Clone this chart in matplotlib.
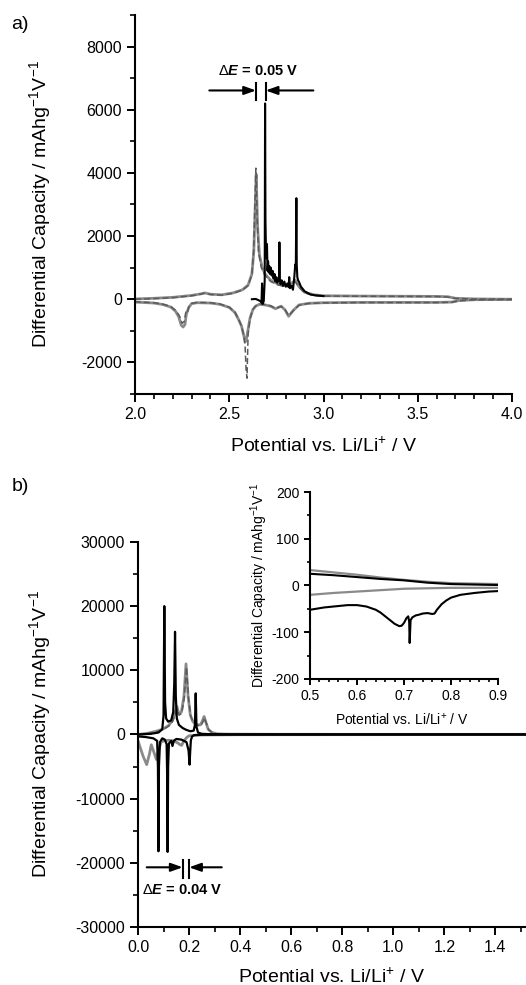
import matplotlib
matplotlib.use("Agg")
import matplotlib.pyplot as plt
from matplotlib.ticker import MultipleLocator

plt.rcParams['font.family'] = ['Liberation Sans', 'DejaVu Sans']
plt.rcParams['mathtext.fontset'] = 'custom'
plt.rcParams['mathtext.rm'] = 'Liberation Sans'
plt.rcParams['mathtext.it'] = 'Liberation Sans:bold:italic'
plt.rcParams['mathtext.bf'] = 'Liberation Sans:bold'
plt.rcParams['axes.unicode_minus'] = False

# ---------------- panel a data (2.0 - 4.0 V) ----------------
a_gray_chg_x = [2.00, 2.10, 2.20, 2.30, 2.35, 2.37, 2.40, 2.46, 2.52, 2.57, 2.60, 2.62, 2.63,
                2.637, 2.643, 2.65, 2.66, 2.675, 2.69, 2.72, 2.76, 2.80, 2.83, 2.85, 2.87,
                2.90, 2.95, 3.00, 3.20, 3.40, 3.60, 3.66, 3.70, 3.80, 4.00]
a_gray_chg_y = [10, 30, 60, 120, 170, 200, 160, 140, 200, 300, 450, 800, 1500,
                2800, 3950, 2300, 1400, 1000, 800, 600, 480, 420, 500, 600, 400,
                220, 140, 110, 100, 95, 90, 80, 30, 10, 0]

a_dash_chg_x = [2.00, 2.10, 2.20, 2.30, 2.37, 2.40, 2.46, 2.52, 2.57, 2.60, 2.62, 2.63,
                2.636, 2.641, 2.648, 2.655, 2.67, 2.69, 2.72, 2.76, 2.80, 2.83, 2.85,
                2.87, 2.90, 2.95, 3.00, 3.20, 3.40, 3.60, 3.66, 3.70, 3.80, 4.00]
a_dash_chg_y = [0, 20, 50, 110, 190, 150, 130, 190, 290, 430, 780, 1600,
                3000, 4150, 2600, 1500, 1000, 750, 560, 450, 400, 480, 560,
                380, 200, 130, 100, 95, 90, 85, 70, 25, 5, 0]

a_gray_dis_x = [4.00, 3.80, 3.72, 3.68, 3.60, 3.40, 3.20, 3.00, 2.92, 2.87, 2.84, 2.815,
                2.795, 2.775, 2.76, 2.745, 2.72, 2.69, 2.66, 2.64, 2.625, 2.61, 2.60,
                2.59, 2.585, 2.577, 2.565, 2.55, 2.53, 2.50, 2.45, 2.40, 2.33, 2.30,
                2.285, 2.272, 2.265, 2.255, 2.245, 2.232, 2.215, 2.19, 2.15, 2.10, 2.00]
a_gray_dis_y = [-5, -15, -40, -90, -100, -100, -100, -110, -130, -180, -350, -540,
                -330, -220, -260, -300, -220, -180, -160, -220, -330, -600, -950,
                -1300, -1350, -1150, -850, -650, -420, -260, -160, -120, -110, -140,
                -260, -480, -800, -880, -820, -560, -380, -250, -170, -120, -90]

a_dash_dis_x = [4.00, 3.80, 3.72, 3.68, 3.60, 3.40, 3.20, 3.00, 2.92, 2.87, 2.84, 2.815,
                2.795, 2.775, 2.745, 2.72, 2.69, 2.66, 2.64, 2.625, 2.61, 2.60, 2.594,
                2.589, 2.584, 2.577, 2.565, 2.55, 2.53, 2.50, 2.45, 2.40, 2.33, 2.30,
                2.285, 2.278, 2.27, 2.262, 2.25, 2.235, 2.215, 2.19, 2.15, 2.10, 2.00]
a_dash_dis_y = [-10, -20, -50, -95, -105, -105, -105, -115, -135, -190, -360, -520,
                -320, -230, -290, -210, -170, -150, -210, -320, -620, -1100, -2500,
                -2200, -1500, -1150, -850, -640, -410, -250, -150, -110, -100, -130,
                -250, -420, -380, -700, -760, -520, -350, -230, -160, -110, -80]

a_black_chg_x = [2.620, 2.640, 2.655, 2.665, 2.671, 2.674, 2.677, 2.683, 2.688, 2.690,
                 2.692, 2.694, 2.697, 2.700, 2.703, 2.706, 2.709, 2.712, 2.716, 2.720,
                 2.725, 2.730, 2.735, 2.740, 2.745, 2.750, 2.755, 2.760, 2.764, 2.766,
                 2.768, 2.772, 2.778, 2.785, 2.792, 2.800, 2.808, 2.815, 2.818, 2.822,
                 2.830, 2.838, 2.845, 2.850, 2.853, 2.856, 2.858, 2.861, 2.865, 2.870,
                 2.880, 2.900, 2.930, 2.960, 3.000]
a_black_chg_y = [0, 10, -30, -60, -100, 500, -150, -60, 600, 6200,
                 2500, 1800, 1300, 1750, 900, 1200, 850, 1050, 800, 1000,
                 750, 900, 650, 800, 560, 700, 520, 650, 600, 1800,
                 650, 480, 600, 420, 560, 400, 500, 380, 700, 350,
                 420, 300, 700, 1100, 1000, 3200, 1100, 700, 600, 550,
                 400, 250, 150, 120, 100]

# ---------------- panel b data (0 - 1.5 V) ----------------
b_gray_chg_x = [0.00, 0.04, 0.08, 0.10, 0.12, 0.135, 0.145, 0.152, 0.160, 0.170, 0.180,
                0.188, 0.196, 0.205, 0.215, 0.230, 0.245, 0.253, 0.259, 0.265, 0.275,
                0.290, 0.310, 0.350, 0.50, 0.80, 1.10, 1.52]
b_gray_chg_y = [0, 200, 600, 900, 1400, 2200, 3300, 4400, 3200, 3500, 6000,
                11000, 6000, 3000, 2000, 1500, 1500, 2200, 2800, 2000, 800,
                300, 100, 50, 30, 20, 20, 20]

b_dash_chg_x = [0.00, 0.04, 0.08, 0.10, 0.12, 0.135, 0.145, 0.153, 0.161, 0.171, 0.181,
                0.190, 0.198, 0.207, 0.217, 0.232, 0.247, 0.255, 0.261, 0.267, 0.277,
                0.292, 0.312, 0.350, 0.50, 0.80, 1.10, 1.52]
b_dash_chg_y = [0, 150, 500, 800, 1300, 2000, 3000, 4000, 3000, 3300, 5600,
                10500, 5600, 2800, 1900, 1400, 1400, 2000, 2600, 1800, 700,
                250, 80, 40, 20, 10, 10, 10]

b_black_chg_x = [0.00, 0.05, 0.08, 0.095, 0.100, 0.103, 0.106, 0.110, 0.118, 0.130, 0.138,
                 0.142, 0.145, 0.148, 0.152, 0.160, 0.175, 0.190, 0.205, 0.218, 0.223,
                 0.226, 0.229, 0.235, 0.250, 0.280, 0.350, 1.52]
b_black_chg_y = [0, 100, 300, 800, 3000, 20000, 5000, 2500, 2000, 2200, 3500,
                 8000, 16000, 6000, 2500, 1500, 1000, 700, 500, 600, 1500,
                 6400, 1200, 300, 100, 50, 20, 0]

b_black_dis_x = [0.00, 0.03, 0.06, 0.075, 0.078, 0.080, 0.082, 0.086, 0.095, 0.105, 0.112,
                 0.114, 0.116, 0.118, 0.121, 0.130, 0.135, 0.140, 0.150, 0.170, 0.190,
                 0.198, 0.202, 0.204, 0.207, 0.212, 0.220, 0.250, 0.350, 1.52]
b_black_dis_y = [-300, -400, -600, -1000, -5000, -18200, -5000, -1200, -600, -800, -1500,
                 -6000, -18300, -5000, -1400, -1000, -1800, -1000, -700, -800, -1200,
                 -2500, -4700, -3000, -900, -300, -100, -50, -20, 0]

b_gray_dis_x = [0.00, 0.010, 0.020, 0.034, 0.045, 0.052, 0.060, 0.072, 0.080, 0.090, 0.100,
                0.120, 0.140, 0.155, 0.165, 0.171, 0.178, 0.190, 0.200, 0.250, 0.40,
                0.80, 1.20, 1.52]
b_gray_dis_y = [-1000, -2200, -3400, -4700, -3000, -1600, -2500, -3900, -2500, -1200, -1000,
                -900, -1000, -1300, -1600, -1700, -1100, -500, -200, -80, -40,
                -30, -20, -20]

# ---------------- inset data (0.5 - 0.9 V) ----------------
ins_gray_up_x = [0.50, 0.55, 0.60, 0.65, 0.70, 0.75, 0.80, 0.85, 0.90]
ins_gray_up_y = [33, 28, 23, 17, 12, 8, 5, 4, 3]
ins_black_up_x = [0.50, 0.55, 0.60, 0.65, 0.70, 0.75, 0.80, 0.85, 0.90]
ins_black_up_y = [25, 22, 18, 14, 11, 6, 3, 2, 1]
ins_gray_lo_x = [0.50, 0.55, 0.60, 0.65, 0.70, 0.75, 0.80, 0.85, 0.90]
ins_gray_lo_y = [-20, -16, -13, -10, -7, -6, -5, -5, -5]
ins_black_lo_x = [0.50, 0.53, 0.56, 0.58, 0.60, 0.62, 0.64, 0.65, 0.66, 0.67, 0.68, 0.69,
                  0.695, 0.70, 0.705, 0.709, 0.711, 0.712, 0.714, 0.718, 0.725, 0.73,
                  0.74, 0.75, 0.76, 0.765, 0.77, 0.78, 0.79, 0.80, 0.82, 0.85, 0.88, 0.90]
ins_black_lo_y = [-52, -47, -44, -42, -42, -45, -52, -58, -66, -74, -82, -87,
                  -86, -80, -70, -66, -78, -123, -74, -68, -64, -63,
                  -60, -59, -61, -60, -52, -40, -32, -26, -20, -16, -13, -12]

GRAY = '#8a8a8a'
DGRAY = '#5a5a5a'
ylab = r'Differential Capacity / mAhg$^{-1}$V$^{-1}$'
xlab = r'Potential vs. Li/Li$^{+}$ / V'


def style(ax, fs, maj=6, mnr=3.5):
    ax.spines['top'].set_visible(False)
    ax.spines['right'].set_visible(False)
    for s in ('left', 'bottom'):
        ax.spines[s].set_linewidth(1.5)
    ax.tick_params(which='major', direction='out', length=maj, width=1.4, labelsize=fs)
    ax.tick_params(which='minor', direction='out', length=mnr, width=1.2)


def delta_e(ax, xl0, xl1, xr0, xr1, ya, yb0, yb1):
    ap = dict(arrowstyle='-|>,head_length=0.7,head_width=0.25', lw=1.5, color='k',
              shrinkA=0, shrinkB=0)
    ax.annotate('', xy=(xl1, ya), xytext=(xl0, ya), arrowprops=ap)
    ax.annotate('', xy=(xr1, ya), xytext=(xr0, ya), arrowprops=ap)
    ax.plot([xl1, xl1], [yb0, yb1], color='k', lw=1.5)
    ax.plot([xr1, xr1], [yb0, yb1], color='k', lw=1.5)


fig = plt.figure(figsize=(5.26, 9.85), dpi=100)

# ---- a) ----
ax1 = fig.add_axes([0.2567, 0.600, 0.7167, 0.3848])
ax1.plot(a_gray_chg_x, a_gray_chg_y, color=GRAY, lw=2.0)
ax1.plot(a_gray_dis_x, a_gray_dis_y, color=GRAY, lw=2.0)
ax1.plot(a_dash_chg_x, a_dash_chg_y, color=DGRAY, lw=1.1, ls=(0, (4, 2)))
ax1.plot(a_dash_dis_x, a_dash_dis_y, color=DGRAY, lw=1.1, ls=(0, (4, 2)))
ax1.plot(a_black_chg_x, a_black_chg_y, color='k', lw=1.5)
ax1.set_xlim(2.0, 4.0)
ax1.set_ylim(-3000, 9000)
ax1.set_yticks([-2000, 0, 2000, 4000, 6000, 8000])
ax1.xaxis.set_major_locator(MultipleLocator(0.5))
ax1.xaxis.set_minor_locator(MultipleLocator(0.1))
ax1.yaxis.set_minor_locator(MultipleLocator(1000))
ax1.xaxis.set_major_formatter(lambda v, p: f'{v:.1f}')
style(ax1, 11.5)
ax1.set_ylabel(ylab, fontsize=14)
ax1.set_xlabel(xlab, fontsize=14)
ax1.yaxis.set_label_coords(-0.2175, 0.5)
ax1.xaxis.set_label_coords(0.5, -0.113)
delta_e(ax1, 2.394, 2.642, 2.946, 2.693, 6610, 6320, 6840)
ax1.text(2.655, 7215, r'$\mathit{\Delta E}$ = 0.05 V', ha='center', va='center',
         fontsize=10.5, fontweight='bold')
fig.text(0.022, 0.975, 'a)', fontsize=14, va='center')

# ---- b) ----
ax2 = fig.add_axes([0.2624, 0.0589, 0.7376, 0.3909])
ax2.plot(b_gray_chg_x, b_gray_chg_y, color=GRAY, lw=2.0)
ax2.plot(b_gray_dis_x, b_gray_dis_y, color=GRAY, lw=2.0)
ax2.plot(b_dash_chg_x, b_dash_chg_y, color=DGRAY, lw=1.1, ls=(0, (4, 2)))
ax2.plot(b_black_chg_x, b_black_chg_y, color='k', lw=1.6)
ax2.plot(b_black_dis_x, b_black_dis_y, color='k', lw=1.6)
ax2.set_xlim(0, 1.52)
ax2.set_ylim(-30000, 30000)
ax2.set_xticks([0.0, 0.2, 0.4, 0.6, 0.8, 1.0, 1.2, 1.4])
ax2.xaxis.set_minor_locator(MultipleLocator(0.1))
ax2.yaxis.set_major_locator(MultipleLocator(10000))
ax2.yaxis.set_minor_locator(MultipleLocator(5000))
ax2.xaxis.set_major_formatter(lambda v, p: f'{v:.1f}')
style(ax2, 11.5)
ax2.set_ylabel(ylab, fontsize=14)
ax2.set_xlabel(xlab, fontsize=14)
ax2.yaxis.set_label_coords(-0.219, 0.5)
ax2.xaxis.set_label_coords(0.5, -0.104)
delta_e(ax2, 0.034, 0.175, 0.328, 0.200, -20700, -19500, -22300)
ax2.text(0.014, -24200, r'$\mathit{\Delta E}$ = 0.04 V', ha='left', va='center',
         fontsize=10.5, fontweight='bold')
fig.text(0.022, 0.506, 'b)', fontsize=14, va='center')

# ---- inset ----
ax3 = fig.add_axes([0.5894, 0.3107, 0.3574, 0.1898])
ax3.patch.set_alpha(0)
ax3.plot(ins_gray_up_x, ins_gray_up_y, color=GRAY, lw=1.6)
ax3.plot(ins_gray_lo_x, ins_gray_lo_y, color=GRAY, lw=1.6)
ax3.plot(ins_black_up_x, ins_black_up_y, color='k', lw=1.5)
ax3.plot(ins_black_lo_x, ins_black_lo_y, color='k', lw=1.5)
ax3.set_xlim(0.5, 0.9)
ax3.set_ylim(-200, 200)
ax3.xaxis.set_major_locator(MultipleLocator(0.1))
ax3.xaxis.set_minor_locator(MultipleLocator(0.02))
ax3.yaxis.set_major_locator(MultipleLocator(100))
ax3.yaxis.set_minor_locator(MultipleLocator(50))
ax3.xaxis.set_major_formatter(lambda v, p: f'{v:.1f}')
style(ax3, 10, maj=4, mnr=2.5)
ax3.set_ylabel(ylab, fontsize=10)
ax3.set_xlabel(xlab, fontsize=10)
ax3.yaxis.set_label_coords(-0.213, 0.5)
ax3.xaxis.set_label_coords(0.49, -0.176)

fig.savefig('out.png', dpi=100)
